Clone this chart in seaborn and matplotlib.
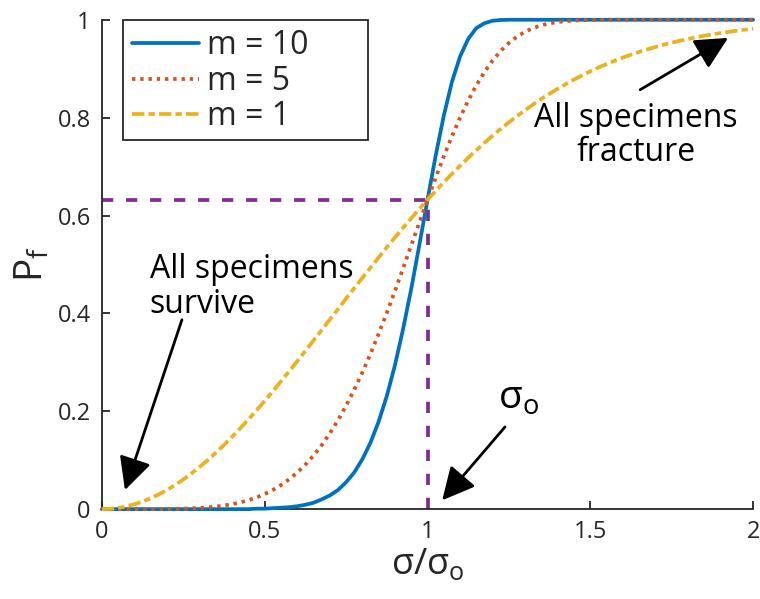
import matplotlib
matplotlib.use("Agg")
import matplotlib.pyplot as plt
from matplotlib.patches import Rectangle
import seaborn as sns
import pandas as pd

# Normalised stress sigma/sigma_o at which the curves are sampled
stress_ratio = [
    0.000, 0.025, 0.050, 0.075, 0.100, 0.125, 0.150, 0.175, 0.200, 0.225,
    0.250, 0.275, 0.300, 0.325, 0.350, 0.375, 0.400, 0.425, 0.450, 0.475,
    0.500, 0.525, 0.550, 0.575, 0.600, 0.625, 0.650, 0.675, 0.700, 0.725,
    0.750, 0.775, 0.800, 0.825, 0.850, 0.875, 0.900, 0.925, 0.950, 0.975,
    1.000, 1.025, 1.050, 1.075, 1.100, 1.125, 1.150, 1.175, 1.200, 1.225,
    1.250, 1.275, 1.300, 1.325, 1.350, 1.375, 1.400, 1.425, 1.450, 1.475,
    1.500, 1.525, 1.550, 1.575, 1.600, 1.625, 1.650, 1.675, 1.700, 1.725,
    1.750, 1.775, 1.800, 1.825, 1.850, 1.875, 1.900, 1.925, 1.950, 1.975,
    2.000,
]

# Failure probability P_f for each Weibull modulus
pf_m10 = [
    0.000, 0.000, 0.000, 0.000, 0.000, 0.000, 0.000, 0.000, 0.000, 0.000,
    0.000, 0.000, 0.000, 0.000, 0.000, 0.000, 0.000, 0.000, 0.000, 0.001,
    0.001, 0.002, 0.003, 0.004, 0.006, 0.009, 0.013, 0.020, 0.028, 0.039,
    0.055, 0.075, 0.102, 0.136, 0.179, 0.231, 0.294, 0.368, 0.450, 0.540,
    0.632, 0.722, 0.804, 0.873, 0.925, 0.961, 0.983, 0.993, 0.998, 0.9995,
    1.000, 1.000, 1.000, 1.000, 1.000, 1.000, 1.000, 1.000, 1.000, 1.000,
    1.000, 1.000, 1.000, 1.000, 1.000, 1.000, 1.000, 1.000, 1.000, 1.000,
    1.000, 1.000, 1.000, 1.000, 1.000, 1.000, 1.000, 1.000, 1.000, 1.000,
    1.000,
]
pf_m5 = [
    0.000, 0.000, 0.000, 0.000, 0.000, 0.000, 0.0001, 0.0002, 0.0003, 0.0006,
    0.001, 0.0016, 0.0024, 0.0036, 0.0052, 0.0074, 0.0102, 0.0138, 0.0183, 0.0239,
    0.0308, 0.0391, 0.0491, 0.0609, 0.0748, 0.0910, 0.1095, 0.1307, 0.1547, 0.1815,
    0.2113, 0.2439, 0.2794, 0.3176, 0.3584, 0.4012, 0.4459, 0.4920, 0.5388, 0.5857,
    0.6321, 0.6774, 0.7209, 0.7620, 0.8002, 0.8350, 0.8662, 0.8935, 0.9170, 0.9366,
    0.9527, 0.9656, 0.9756, 0.9832, 0.9887, 0.9927, 0.9954, 0.9972, 0.9984, 0.9991,
    0.9995, 0.9997, 0.9999, 1.000, 1.000, 1.000, 1.000, 1.000, 1.000, 1.000,
    1.000, 1.000, 1.000, 1.000, 1.000, 1.000, 1.000, 1.000, 1.000, 1.000,
    1.000,
]
pf_m1 = [
    0.000, 0.0006, 0.0025, 0.0056, 0.0100, 0.0155, 0.0223, 0.0302, 0.0392, 0.0494,
    0.0606, 0.0728, 0.0861, 0.1001, 0.1153, 0.1310, 0.1479, 0.1652, 0.1834, 0.2018,
    0.2212, 0.2407, 0.2611, 0.2816, 0.3023, 0.3234, 0.3447, 0.3658, 0.3874, 0.4087,
    0.4302, 0.4516, 0.4727, 0.4936, 0.5144, 0.5350, 0.5551, 0.5749, 0.5943, 0.6134,
    0.6321, 0.6502, 0.6679, 0.6851, 0.7018, 0.7179, 0.7335, 0.7486, 0.7631, 0.7770,
    0.7904, 0.8032, 0.8155, 0.8272, 0.8384, 0.8490, 0.8591, 0.8687, 0.8778, 0.8865,
    0.8946, 0.9023, 0.9095, 0.9163, 0.9227, 0.9287, 0.9343, 0.9395, 0.9444, 0.9490,
    0.9532, 0.9572, 0.9608, 0.9642, 0.9674, 0.9703, 0.9729, 0.9754, 0.9777, 0.9798,
    0.9817,
]

series_labels = ["m = 10", "m = 5", "m = 1"]

# Characteristic strength and the failure probability reached there
sigma_o = 1.0
pf_at_sigma_o = 0.632

x_ticks = [0, 0.5, 1, 1.5, 2]
x_tick_labels = ["0", "0.5", "1", "1.5", "2"]
y_ticks = [0, 0.2, 0.4, 0.6, 0.8, 1]
y_tick_labels = ["0", "0.2", "0.4", "0.6", "0.8", "1"]

sns.set_theme(style="ticks")
plt.rcParams["font.family"] = ["Open Sans", "DejaVu Sans"]
plt.rcParams["mathtext.default"] = "regular"

colors = ["#0072BD", "#D95319", "#EDB120"]
dash_styles = [None, (0.9, 1.3), (3.3, 1.1, 1.7, 1.1)]
lw = 2.7
dark = "#262626"

fig = plt.figure(figsize=(7.6, 5.99), dpi=100)
ax = fig.add_axes([0.134, 0.150, 0.857, 0.817])

for vals, lab, col, dsh in zip([pf_m10, pf_m5, pf_m1], series_labels, colors, dash_styles):
    df = pd.DataFrame({"x": stress_ratio, "pf": vals})
    sns.lineplot(data=df, x="x", y="pf", color=col, linewidth=lw, label=lab,
                 ax=ax, clip_on=False, zorder=3)
    line = ax.lines[-1]
    if dsh is not None:
        line.set_dashes(dsh)

# Guide lines marking sigma_o and P_f there
purple = "#7E2F8E"
ax.plot([0, sigma_o], [pf_at_sigma_o, pf_at_sigma_o], color=purple, lw=lw,
        dashes=(3.0, 3.4), zorder=2)
ax.plot([sigma_o, sigma_o], [0, pf_at_sigma_o], color=purple, lw=lw,
        dashes=(3.0, 3.4), zorder=2)

ax.set_xlim(0, 2)
ax.set_ylim(0, 1)
ax.set_xticks(x_ticks)
ax.set_xticklabels(x_tick_labels)
ax.set_yticks(y_ticks)
ax.set_yticklabels(y_tick_labels)
ax.tick_params(direction="in", length=6, width=1.3, labelsize=17, pad=8,
               colors=dark)
for side in ["top", "right"]:
    ax.spines[side].set_visible(False)
for side in ["left", "bottom"]:
    ax.spines[side].set_linewidth(1.3)
    ax.spines[side].set_color(dark)

ax.set_xlabel(r"σ/σ$_{o}$", fontsize=26, labelpad=2)
ax.set_ylabel(r"P$_{f}$", fontsize=28, labelpad=4)

# Legend entries without their own frame; a wider box is drawn around them
leg = ax.legend(loc="upper left", bbox_to_anchor=(0.032, 1.0), fontsize=23,
                handlelength=2.1, handletextpad=0.25, labelspacing=0.08,
                borderpad=0.3, borderaxespad=0.0, frameon=False)
leg.set_zorder(6)
legend_box = Rectangle((0.032, 0.755), 0.377, 0.245, transform=ax.transAxes,
                       facecolor="white", edgecolor=dark, linewidth=1.3,
                       zorder=5, clip_on=False)
ax.add_patch(legend_box)

arrow_kw = dict(arrowstyle="-|>,head_length=1.0,head_width=0.5", color="black",
                lw=2, shrinkA=0, shrinkB=0, mutation_scale=20)
ax.annotate("", xy=(1.923, 0.963), xytext=(1.653, 0.857), arrowprops=arrow_kw)
ax.annotate("", xy=(0.071, 0.039), xytext=(0.246, 0.387), arrowprops=arrow_kw)
ax.annotate("", xy=(1.045, 0.018), xytext=(1.238, 0.168), arrowprops=arrow_kw)

ax.text(1.64, 0.763, "All specimens\nfracture", fontsize=23, ha="center",
        va="center", multialignment="center", linespacing=1.05, color="black")
ax.text(0.147, 0.454, "All specimens\nsurvive", fontsize=23, ha="left",
        va="center", multialignment="left", linespacing=1.05, color="black")
ax.text(1.28, 0.225, r"σ$_{o}$", fontsize=28, ha="center", va="center",
        color="black")

fig.savefig("out.png", dpi=100)
